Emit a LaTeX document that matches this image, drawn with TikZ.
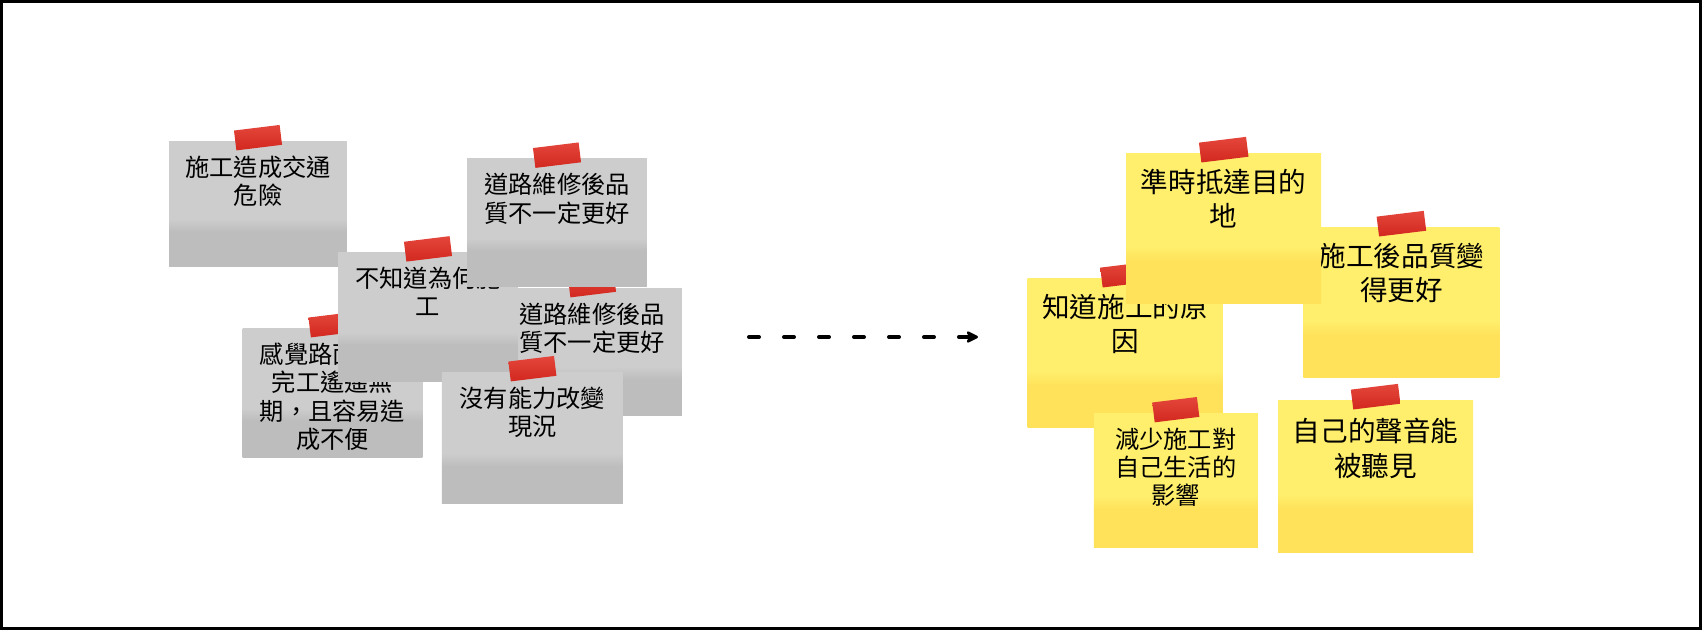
\documentclass[tikz,border=0pt]{standalone}
\usepackage{fontspec}
\usepackage{tikz}
\usetikzlibrary{arrows.meta,positioning}
\newfontfamily\cjk{Noto Sans CJK TC}
\definecolor{greyTop}{HTML}{CDCDCD}
\definecolor{greyBot}{HTML}{BDBDBD}
\definecolor{yellowTop}{HTML}{FFEF6C}
\definecolor{yellowBot}{HTML}{FFE15A}
\definecolor{tapeTop}{HTML}{E4463B}
\definecolor{tapeBot}{HTML}{D2281F}
\pgfdeclareverticalshading{greypaper}{100bp}{color(0bp)=(greyBot); color(39bp)=(greyBot); color(44bp)=(greyTop); color(100bp)=(greyTop)}
\pgfdeclareverticalshading{yellowpaper}{100bp}{color(0bp)=(yellowBot); color(39bp)=(yellowBot); color(44bp)=(yellowTop); color(100bp)=(yellowTop)}

\begin{document}
\begin{tikzpicture}[x=0.02cm, y=-0.02cm,
  grey note/.style={minimum width=3.6cm, minimum height=2.58cm, inner sep=0pt, shade, shading=greypaper},
  yellow note/.style={minimum width=3.9cm, minimum height=3.02cm, inner sep=0pt, shade, shading=yellowpaper},
  grey text/.style={align=center, inner sep=0pt, font=\cjk\fontsize{13.8}{16.1}\selectfont},
  yellow text/.style={align=center, inner sep=0pt, font=\cjk\fontsize{15.7}{19.7}\selectfont},
  tape/.style={minimum width=0.92cm, minimum height=0.4cm, inner sep=0pt, top color=tapeTop, bottom color=tapeBot, rotate=7},
  flow/.style={line width=0.08cm, line cap=round, dash pattern=on 0.2cm off 0.5cm, -{Stealth[length=0.3cm, width=0.3cm, round]}}]
  \useasboundingbox (0,0) rectangle (1702,630);

  \node[grey note, minimum width=3.56cm, minimum height=2.52cm] (A) at (258, 204) {};
  \node[grey text, below=0.3cm of A.north] (A text) {施工造成交通\\危險};
  \node[tape] (A tape) at ([yshift=0.06cm]A.north) {};

  \node[grey note] (E) at (332.5, 392.5) {};
  \node[grey text, below=0.3cm of E.north] (E text) {感覺路面修繕\\完工遙遙無\\期，且容易造\\成不便};
  \node[tape] (E tape) at ([yshift=0.06cm]E.north) {};

  \node[grey note, minimum height=2.54cm] (D) at (592, 351.5) {};
  \node[grey text, below=0.3cm of D.north] (D text) {道路維修後品\\質不一定更好};
  \node[tape] (D tape) at ([yshift=0.06cm]D.north) {};

  \node[grey note] (C) at (428, 316.7) {};
  \node[grey text, below=0.3cm of C.north] (C text) {不知道為何施\\工};
  \node[tape] (C tape) at ([yshift=0.06cm]C.north) {};

  \node[grey note, minimum height=2.56cm] (B) at (557, 222.5) {};
  \node[grey text, below=0.3cm of B.north] (B text) {道路維修後品\\質不一定更好};
  \node[tape] (B tape) at ([yshift=0.06cm]B.north) {};

  \node[grey note, minimum width=3.62cm, minimum height=2.62cm] (F) at (532.4, 437.5) {};
  \node[grey text, below=0.3cm of F.north] (F text) {沒有能力改變\\現況};
  \node[tape] (F tape) at ([yshift=0.06cm]F.north) {};

  \node[yellow note, minimum height=3cm] (H) at (1125, 353) {};
  \node[yellow text, below=0.32cm of H.north] (H text) {知道施工的原\\因};
  \node[tape, minimum width=0.95cm] (H tape) at ([yshift=0.06cm]H.north) {};

  \node[yellow note, minimum width=3.92cm] (I) at (1401.4, 302.5) {};
  \node[yellow text, below=0.32cm of I.north] (I text) {施工後品質變\\得更好};
  \node[tape, minimum width=0.95cm] (I tape) at ([yshift=0.06cm]I.north) {};

  \node[yellow note] (G) at (1223.7, 228.5) {};
  \node[yellow text, below=0.32cm of G.north] (G text) {準時抵達目的\\地};
  \node[tape, minimum width=0.95cm] (G tape) at ([yshift=0.06cm]G.north) {};

  \node[yellow note, minimum width=3.28cm, minimum height=2.68cm] (J) at (1175.8, 480) {};
  \node[grey text, below=0.3cm of J.north] (J text) {減少施工對\\自己生活的\\影響};
  \node[tape, minimum width=0.9cm] (J tape) at ([yshift=0.06cm]J.north) {};

  \node[yellow note, minimum height=3.04cm] (K) at (1375.6, 476) {};
  \node[yellow text, below=0.36cm of K.north] (K text) {自己的聲音能\\被聽見};
  \node[tape, minimum width=0.95cm] (K tape) at ([yshift=0.06cm]K.north) {};

  \coordinate (from) at (749, 337);
  \coordinate (to) at (978, 337);
  \draw[flow] (from) -- (to);

  \draw[line width=0.06cm] (1.5,1.5) rectangle (1700.5,628.5);
\end{tikzpicture}
\end{document}
